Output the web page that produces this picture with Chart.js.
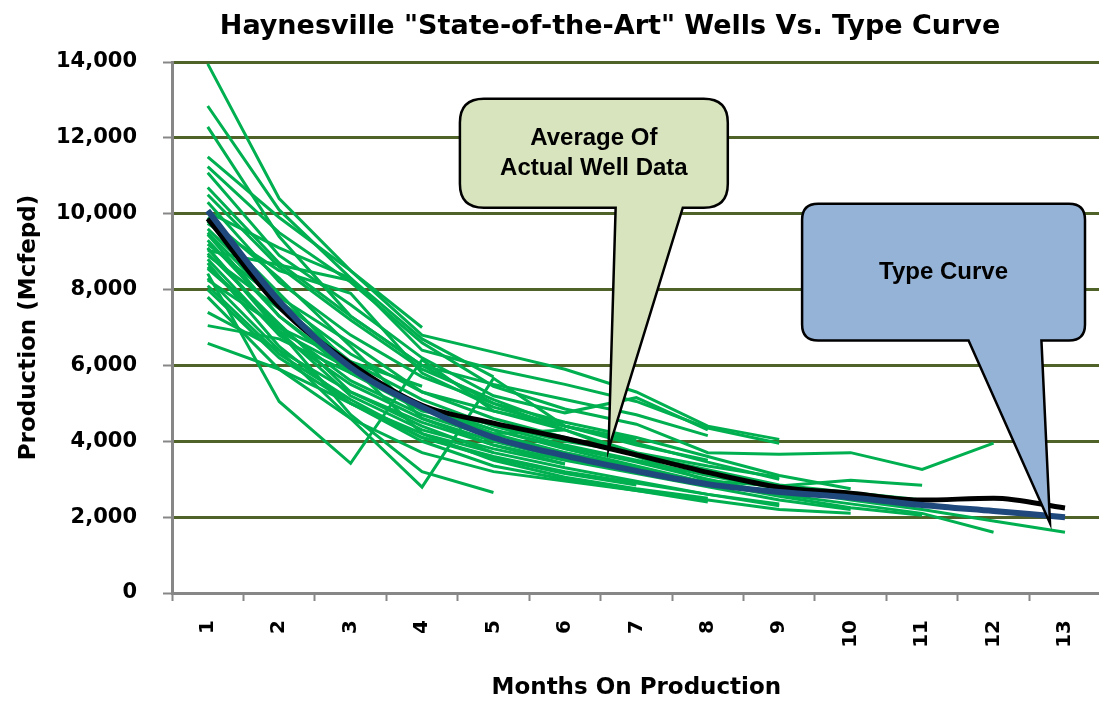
<!DOCTYPE html>
<html>
<head>
<meta charset="utf-8">
<title>Haynesville State-of-the-Art Wells Vs. Type Curve</title>
<script src="https://cdn.jsdelivr.net/npm/chart.js@4.4.1/dist/chart.umd.min.js"></script>
<style>
  html, body { margin: 0; padding: 0; background: #fff; overflow: hidden; }
  #wrap { position: relative; width: 1108px; height: 702px; }
</style>
</head>
<body>
<div id="wrap"><canvas id="chart"></canvas></div>
<script>
const months = ['1', '2', '3', '4', '5', '6', '7', '8', '9', '10', '11', '12', '13'];
const yTicks = [0, 2000, 4000, 6000, 8000, 10000, 12000, 14000];

// type curve and the average of the actual wells (Mcfepd)
const typeCurve = [10080, 7700, 5950, 4900, 4100, 3620, 3220, 2870, 2660, 2520, 2320, 2160, 2000];
const wellAverage = [9870, 7550, 6050, 4950, 4480, 4080, 3640, 3180, 2790, 2630, 2450, 2500, 2240];

// individual wells, month 1 onwards
const wells = [
    [13950, 10400, 8500, 6800, 6350, 5900, 5300, 4400, 4050],
    [12840, 10100, 8300, 6400, 5900, 5500, 5050, 4350, 3950],
    [12290, 9400, 7300, 6000, 5500, 5100, 4700, 4150],
    [11500, 9900, 8500, 7000],
    [11240, 9500, 8200, 6600, 5450, 4850, 4450, 3700, 3660, 3700, 3260, 3950],
    [11080, 8900, 7600, 6200, 5200, 4750, 5150, 4300],
    [10690, 8700, 7300, 6000, 5000, 4300, 3600, 2950, 2820, 2970, 2840],
    [10500, 8600, 7200, 5900, 5100, 4400, 3950, 3450, 3000],
    [10300, 8200, 6800, 5700, 5000, 4500, 4100, 3600, 3100, 2750],
    [10050, 9100, 8300, 6700, 5700],
    [9900, 8300, 6500, 4600, 3900, 3400],
    [9800, 7900, 6000, 4900, 4200, 4300, 3700],
    [9740, 8500, 7900, 5800, 4900, 4400, 4000],
    [9600, 7800, 6600, 5300, 4600, 4100, 3650, 3250, 2850, 2650, 2450],
    [9500, 7600, 6100, 5100, 4400, 3900, 3500, 3100, 2750, 2450, 2200, 1900, 1600],
    [9450, 7300, 5800, 4800, 4450, 4000, 3700, 3350, 3050],
    [9300, 7300, 5900, 4900, 4300, 3800, 3350, 2900, 2600, 2350, 2100, 1600],
    [9200, 7700, 6300, 5300, 4800, 4400, 4050],
    [9100, 6900, 4700, 3200, 2650],
    [9080, 7000, 5600, 4700, 4100, 3700, 3300, 2900, 2550, 2250, 2050],
    [9030, 8650, 8240],
    [8950, 7100, 5300, 4500, 3900, 3500, 3150, 2800, 2450, 2200],
    [8900, 7500, 6000, 4200, 3500, 3050, 2750, 2500],
    [8800, 6800, 5500, 4600, 4000, 3550, 3200],
    [8700, 6500, 5000, 4000, 3350, 3000, 2700, 2400],
    [8600, 6900, 5900, 4950, 4300, 3850, 3450, 3000, 2600],
    [8550, 6900, 5200, 4300, 3800, 3400],
    [8420, 5050, 3420, 6150, 4800, 4300],
    [8300, 6400, 4600, 2790, 5660, 4400, 3900, 3500],
    [8250, 7000, 6100, 5450],
    [8100, 6300, 5100, 4100, 3550, 3150, 2850],
    [8000, 6200, 5000, 4200, 3700, 3300, 2950, 2600, 2300],
    [7800, 5900, 4600, 3700, 3200, 2950, 2700, 2450, 2200, 2100],
    [7400, 6400, 5300, 4400, 3700],
    [7050, 6700, 5800, 4900, 4200, 3700, 3300],
    [6580, 5900, 5000, 4100, 3600, 3200, 2900, 2600, 2350]
];

const FONT = "'DejaVu Sans', 'Liberation Sans', sans-serif";
const OLIVE = '#4f6228';
const AXIS_GREY = '#878787';

// callouts: box corners, pointer base and tip in axis units (category index, Mcfepd)
const callouts = [
    { lines: ['Average Of', 'Actual Well Data'], fill: '#d7e4bd',
      box: [3.53, 13030, 7.28, 10160], base: [5.71, 6.65], tip: [5.61, 3790], radius: 24 },
    { lines: ['Type Curve'], fill: '#95b3d7',
      box: [8.32, 10260, 12.28, 6660], base: [10.65, 11.67], tip: [11.79, 1840], radius: 16 }
];

const titlePlugin = {
    id: 'topTitle',
    afterDraw(chart) {
        const ctx = chart.ctx;
        ctx.save();
        ctx.font = 'bold 27px ' + FONT;
        ctx.fillStyle = '#000';
        ctx.textAlign = 'center';
        ctx.textBaseline = 'middle';
        ctx.fillText('Haynesville "State-of-the-Art" Wells Vs. Type Curve', 610, 27);
        ctx.restore();
    }
};

const calloutPlugin = {
    id: 'callouts',
    afterDatasetsDraw(chart) {
        const ctx = chart.ctx;
        const x = chart.scales.x, y = chart.scales.y;
        callouts.forEach(c => {
            const l = x.getPixelForValue(c.box[0]), t = y.getPixelForValue(c.box[1]);
            const r = x.getPixelForValue(c.box[2]), b = y.getPixelForValue(c.box[3]);
            const b1 = x.getPixelForValue(c.base[0]), b2 = x.getPixelForValue(c.base[1]);
            const tx = x.getPixelForValue(c.tip[0]), ty = y.getPixelForValue(c.tip[1]);
            const rad = c.radius;
            ctx.save();
            ctx.beginPath();
            ctx.moveTo(l + rad, t);
            ctx.lineTo(r - rad, t);
            ctx.quadraticCurveTo(r, t, r, t + rad);
            ctx.lineTo(r, b - rad);
            ctx.quadraticCurveTo(r, b, r - rad, b);
            ctx.lineTo(b2, b);
            ctx.lineTo(tx, ty);
            ctx.lineTo(b1, b);
            ctx.lineTo(l + rad, b);
            ctx.quadraticCurveTo(l, b, l, b - rad);
            ctx.lineTo(l, t + rad);
            ctx.quadraticCurveTo(l, t, l + rad, t);
            ctx.closePath();
            ctx.fillStyle = c.fill;
            ctx.fill();
            ctx.lineWidth = 2.5;
            ctx.strokeStyle = '#000';
            ctx.stroke();

            ctx.font = "bold 24px 'Liberation Sans', Arial, sans-serif";
            ctx.fillStyle = '#000';
            ctx.textAlign = 'center';
            ctx.textBaseline = 'middle';
            const cx = (l + r) / 2, cy = (t + b) / 2;
            const step = 30;
            c.lines.forEach((line, i) => {
                ctx.fillText(line, cx, cy + (i - (c.lines.length - 1) / 2) * step);
            });
            ctx.restore();
        });
    }
};

const datasets = [
    { label: 'Type Curve', data: typeCurve, borderColor: '#1f497d', borderWidth: 6,
      cubicInterpolationMode: 'monotone' },
    { label: 'Average', data: wellAverage, borderColor: '#000000', borderWidth: 5,
      cubicInterpolationMode: 'monotone' }
];
wells.forEach((w, i) => {
    datasets.push({ label: 'Well ' + (i + 1), data: w, borderColor: '#00b050', borderWidth: 3 });
});

new Chart(document.getElementById('chart'), {
    type: 'line',
    data: { labels: months, datasets: datasets },
    options: {
        responsive: true,
        maintainAspectRatio: false,
        animation: false,
        layout: { padding: { top: 62, right: 0, bottom: 0, left: 0 } },
        elements: { point: { radius: 0 }, line: { tension: 0, fill: false } },
        plugins: { legend: { display: false }, tooltip: { enabled: false }, title: { display: false } },
        scales: {
            x: {
                offset: true,
                grid: { display: true, offset: true, drawOnChartArea: false, drawTicks: true,
                        tickLength: 8, tickColor: AXIS_GREY, tickWidth: 2 },
                border: { color: AXIS_GREY, width: 3 },
                ticks: { minRotation: 90, maxRotation: 90, padding: 19, color: '#000',
                         font: { family: FONT, weight: 'bold', size: 20 } },
                title: { display: true, text: 'Months On Production', color: '#000',
                         font: { family: FONT, weight: 'bold', size: 23 }, padding: { top: 0, bottom: 0 } },
                afterFit(scale) { scale.height = 109; }
            },
            y: {
                min: 0,
                max: 14000,
                afterBuildTicks(scale) { scale.ticks = yTicks.map(v => ({ value: v })); },
                grid: { color: ctx => (ctx.tick && ctx.tick.value === 0 ? 'rgba(0,0,0,0)' : OLIVE),
                        lineWidth: 3, tickLength: 9, tickColor: AXIS_GREY, tickWidth: 2 },
                border: { color: AXIS_GREY, width: 3 },
                ticks: { padding: 26, color: '#000', font: { family: FONT, weight: 'bold', size: 21 },
                         callback: v => String(v).replace(/\B(?=(\d{3})+(?!\d))/g, ',') },
                title: { display: true, text: 'Production (Mcfepd)', color: '#000',
                         font: { family: FONT, weight: 'bold', size: 23 }, padding: { top: 15, bottom: 0 } },
                afterFit(scale) { scale.width = 172; }
            }
        }
    },
    plugins: [calloutPlugin, titlePlugin]
});
</script>
</body>
</html>
